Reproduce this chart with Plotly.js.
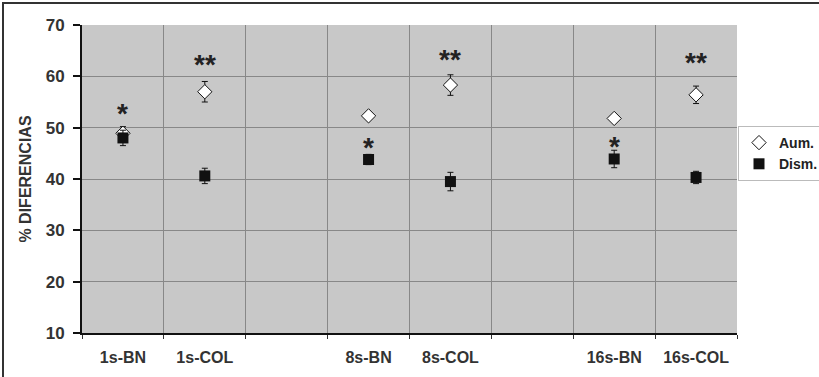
<!DOCTYPE html>
<html>
<head>
<meta charset="utf-8">
<script src="https://cdn.plot.ly/plotly-3.0.1.min.js"></script>
<style>
html,body{margin:0;padding:0;background:#fff;}
#chart{width:819px;height:377px;}
#frame{position:absolute;left:2px;top:2px;width:830px;height:400px;border-top:2px solid #333;border-left:2px solid #333;pointer-events:none;}
</style>
</head>
<body>
<div id="chart"></div>
<div id="frame"></div>
<script>
// Categories (blank slots are the gaps between groups)
const categories = ['1s-BN', '1s-COL', '', '8s-BN', '8s-COL', '', '16s-BN', '16s-COL'];
// Aumento (open diamonds)
const aumValues = [48.9, 57.0, null, 52.3, 58.3, null, 51.8, 56.4];
const aumErrors = [1.3, 2.0, null, 0.6, 2.0, null, 0.6, 1.7];
// Disminución (filled squares)
const dismValues = [48.0, 40.6, null, 43.8, 39.5, null, 43.9, 40.3];
const dismErrors = [1.5, 1.5, null, 1.0, 1.8, null, 1.7, 1.2];
// Significance marks
const sigText = ['*', '**', '', '*', '**', '', '*', '**'];
const sigY = [53.3, 62.8, null, 46.8, 63.8, null, 46.9, 63.2];
// Axis ticks
const yTicks = [10, 20, 30, 40, 50, 60, 70];

const FONT = 'Arial, "Liberation Sans", sans-serif';
const idx = categories.map((c, i) => i);
const labelIdx = idx.filter(i => categories[i] !== '');

const traceAum = {
  type: 'scatter', mode: 'markers', name: 'Aum.',
  x: idx, y: aumValues,
  error_y: {type: 'data', array: aumErrors, visible: true, color: '#111', thickness: 1, width: 3},
  marker: {symbol: 'diamond', size: 11, color: '#ffffff', line: {color: '#111', width: 1}}
};
const traceDism = {
  type: 'scatter', mode: 'markers', name: 'Dism.',
  x: idx, y: dismValues,
  error_y: {type: 'data', array: dismErrors, visible: true, color: '#111', thickness: 1, width: 3},
  marker: {symbol: 'square', size: 11, color: '#111', line: {color: '#111', width: 0}}
};

const annotations = idx.filter(i => sigText[i] !== '').map(i => ({
  x: i, y: sigY[i], xref: 'x', yref: 'y', text: sigText[i], showarrow: false,
  font: {family: FONT, size: 28, color: '#222', weight: 700}, yshift: -3
}));

const layout = {
  width: 819, height: 377,
  margin: {l: 82, r: 82, t: 25, b: 44},
  paper_bgcolor: '#ffffff', plot_bgcolor: '#c8c8c8',
  font: {family: FONT, color: '#222'},
  showlegend: true,
  legend: {
    xref: 'container', yref: 'container',
    x: 738 / 819, y: 1 - 126 / 377, xanchor: 'left', yanchor: 'top',
    bgcolor: '#ffffff', bordercolor: '#bbbbbb', borderwidth: 1,
    font: {family: FONT, size: 14, color: '#222', weight: 700},
    itemwidth: 30, tracegroupgap: 0
  },
  xaxis: {
    range: [-0.5, categories.length - 0.5],
    tickmode: 'array', tickvals: labelIdx, ticktext: labelIdx.map(i => categories[i]),
    ticks: '', showgrid: false, zeroline: false,
    showline: true, linecolor: '#111', linewidth: 2,
    tickfont: {family: FONT, size: 16, color: '#333', weight: 700},
    ticklabelstandoff: 9,
    minor: {tick0: -0.5, dtick: 1, showgrid: true, gridcolor: '#888888', gridwidth: 1,
            ticks: 'outside', ticklen: 4, tickcolor: '#333', tickwidth: 1}
  },
  yaxis: {
    range: [10, 70], tickmode: 'array', tickvals: yTicks,
    ticks: 'outside', ticklen: 7, tickwidth: 2, tickcolor: '#111',
    showgrid: true, gridcolor: '#888888', gridwidth: 1, zeroline: false,
    showline: true, linecolor: '#111', linewidth: 2,
    tickfont: {family: FONT, size: 17, color: '#333', weight: 700},
    ticklabelstandoff: 5,
    title: {text: '% DIFERENCIAS', font: {family: FONT, size: 16, color: '#333', weight: 700}, standoff: 10}
  },
  annotations: annotations
};

Plotly.newPlot('chart', [traceAum, traceDism], layout, {displayModeBar: false, staticPlot: true});
</script>
</body>
</html>
